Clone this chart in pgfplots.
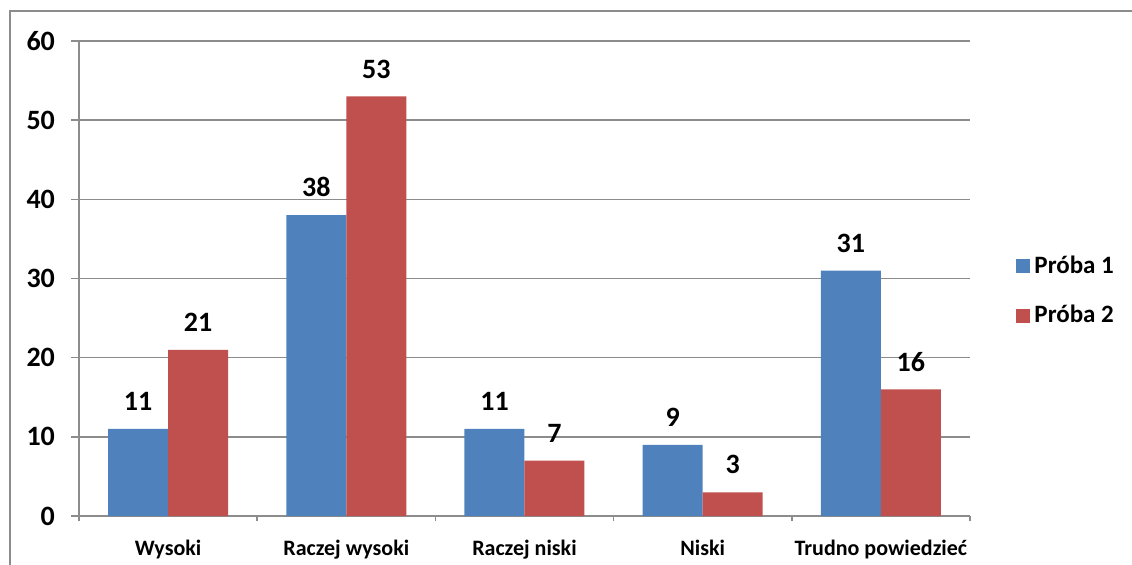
\documentclass[border=0pt]{standalone}
\usepackage{fontspec}
\setmainfont{Carlito}
\usepackage{pgfplots}
\pgfplotsset{compat=1.18}
\definecolor{bblue}{HTML}{4F81BD}
\definecolor{bred}{HTML}{C0504D}
\definecolor{gline}{HTML}{8C8C8C}
\begin{document}
\begin{tikzpicture}
\path[use as bounding box] (0,0) rectangle (566pt,282pt);
\draw[gline, line width=0.8pt] (5pt,-2pt) -- (5pt,276.5pt) -- (570pt,276.5pt);
\begin{axis}[
  at={(39.5pt,24pt)}, anchor=south west,
  scale only axis, width=445.5pt, height=237.5pt,
  ybar=0pt, bar width=30pt,
  xmin=-0.5, xmax=4.5, ymin=0, ymax=60,
  xtick={0,1,2,3,4},
  xticklabels={Wysoki, Raczej wysoki, Raczej niski, Niski, Trudno powiedzieć},
  minor xtick={-0.5,0.5,1.5,2.5,3.5,4.5},
  ytick={0,10,...,60},
  axis x line*=bottom, axis y line*=left,
  axis line style={gline, line width=0.8pt, -},
  ymajorgrids, grid style={gline, line width=0.8pt},
  tick align=outside,
  major tick style={gline, line width=0.8pt},
  minor tick style={gline, line width=0.8pt},
  major x tick style={draw=none},
  major tick length=4pt, minor tick length=2.5pt,
  /pgf/number format/assume math mode=true,
  yticklabel style={font=\fontsize{14}{14}\selectfont\bfseries, xshift=-4.5pt},
  xticklabel style={font=\fontsize{11}{11}\selectfont\bfseries, yshift=-4.5pt},
  nodes near coords,
  every node near coord/.append style={font=\fontsize{14}{14}\selectfont\bfseries, yshift=5.5pt},
  legend style={at={(1.045,0.474)}, anchor=west, draw=none, fill=none,
    font=\fontsize{12.5}{12.5}\selectfont\bfseries, row sep=10.5pt},
  legend cell align=left,
  legend image code/.code={\fill[#1] (0pt,-3.5pt) rectangle (7pt,3.5pt);},
]
\addplot[fill=bblue, draw=none] coordinates {(0,11) (1,38) (2,11) (3,9) (4,31)};
\addplot[fill=bred, draw=none] coordinates {(0,21) (1,53) (2,7) (3,3) (4,16)};
\legend{Próba 1, Próba 2}
\end{axis}
\end{tikzpicture}
\end{document}
